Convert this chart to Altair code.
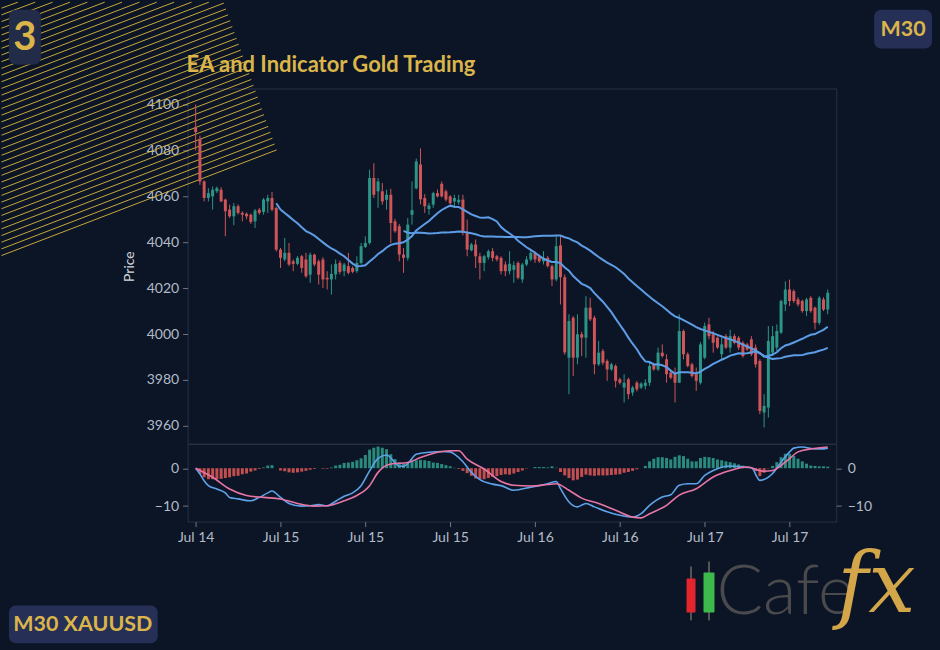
import json
import numpy as np
import pandas as pd
import altair as alt

# ---------------- data ----------------
opens = [4090, 4085, 4066.5, 4059.3, 4060.0, 4062.2, 4062.9, 4058.6, 4054.2, 4051.3,
         4055.7, 4052.8, 4052.4, 4052.0, 4049.1, 4054.2, 4053.2, 4057.8, 4059.3, 4054.9,
         4036.8, 4032.5, 4035.4, 4031.7, 4030.6, 4033.9, 4032.5, 4025.9, 4034.6, 4031.7,
         4032.5, 4024.5, 4023.8, 4026.0, 4031.0, 4027.4, 4029.6, 4028.8, 4027.4, 4031.0,
         4038.0, 4039.7, 4068.0, 4062.2, 4062.2, 4058.5, 4060.7, 4049.1, 4047.0, 4034.6,
         4033.2, 4052.0, 4063.5, 4073.9, 4059.3, 4054.5, 4056.4, 4061.4, 4065.5, 4062.2,
         4060.0, 4057.8, 4057.4, 4058.6, 4044.1, 4036.5, 4039.0, 4033.9, 4031.0, 4033.5,
         4036.1, 4033.9, 4033.2, 4030.3, 4027.4, 4028.0, 4031.0, 4023.8, 4030.3, 4032.5,
         4035.4, 4033.9, 4031.7, 4033.2, 4029.6, 4023.8, 4038.6, 4024.8, 3989.7, 4007.1,
         3989.7, 3999.9, 3998.4, 4011.5, 4007.1, 3986.8, 3992.6, 3988.3, 3984.6, 3986.1,
         3980.3, 3976.7, 3980.3, 3974.5, 3978.8, 3976.7, 3977.4, 3978.8, 3986.8, 3984.6,
         3991.9, 3989.0, 3983.2, 3982.5, 3978.8, 4001.3, 3991.2, 3986.8, 3982.5, 3978.8,
         3989.7, 4004.2, 3999.9, 3998.4, 3991.2, 3999.1, 3994.1, 3999.1, 3998.4, 3996.2,
         3995.5, 3997.7, 3994.1, 3988.3, 3965.8, 3968.0, 3991.9, 3994.1, 4000.6, 4012.9,
         4019.4, 4018.7, 4015.1, 4014.4, 4010.0, 4015.8, 4011.5, 4004.9, 4015.1, 4010.7]
highs = [4100, 4086.5, 4067, 4063.6, 4064.3, 4064.3, 4064.0, 4059.0, 4056.4, 4057.1,
         4056.5, 4053.5, 4053.0, 4052.5, 4054.5, 4055.0, 4059.3, 4060.7, 4061.9, 4055.5,
         4037.5, 4041.9, 4039.7, 4032.5, 4034.0, 4034.5, 4035.4, 4035.5, 4035.0, 4032.5,
         4033.5, 4027.4, 4030.3, 4032.5, 4032.0, 4031.0, 4035.4, 4029.5, 4033.9, 4039.7,
         4042.6, 4071.6, 4074.5, 4068.0, 4065.8, 4062.9, 4063.3, 4050.2, 4048.0, 4037.5,
         4050.6, 4066.5, 4076.5, 4080.9, 4061.0, 4057.1, 4062.0, 4063.0, 4066.5, 4063.0,
         4060.5, 4060.7, 4060.7, 4060.7, 4049.9, 4039.7, 4041.2, 4035.4, 4034.5, 4036.8,
         4037.5, 4034.5, 4033.9, 4031.7, 4036.1, 4031.7, 4031.7, 4031.0, 4033.9, 4036.8,
         4036.1, 4034.6, 4036.1, 4034.0, 4030.3, 4042.6, 4042.6, 4026.0, 4008.6, 4007.8,
         4008.6, 4001.0, 4016.5, 4015.8, 4008.0, 3997.0, 3993.5, 3989.0, 3987.5, 3986.8,
         3981.0, 3982.5, 3981.0, 3977.4, 3979.5, 3979.0, 3980.3, 3988.3, 3987.5, 3994.1,
         3995.5, 3991.2, 3984.0, 3985.4, 4008.6, 4002.0, 3992.0, 3987.5, 3985.4, 3996.5,
         4005.0, 4007.1, 4001.3, 3999.0, 3998.4, 4000.0, 4001.9, 4000.0, 3999.1, 3997.0,
         3996.2, 3999.1, 3995.5, 3989.0, 3973.8, 4003.5, 4003.5, 4004.2, 4015.0, 4023.0,
         4023.7, 4019.5, 4016.0, 4015.0, 4015.8, 4016.5, 4012.0, 4016.5, 4016.0, 4019.4]
lows = [4080, 4065, 4057.8, 4057.8, 4054.2, 4061.4, 4057.5, 4042.6, 4050.6, 4047.4,
        4052.0, 4049.1, 4050.0, 4048.0, 4046.2, 4052.0, 4052.0, 4052.8, 4053.5, 4036.0,
        4028.8, 4031.7, 4029.6, 4027.4, 4030.0, 4026.7, 4024.5, 4022.3, 4029.5, 4021.6,
        4020.1, 4019.4, 4017.2, 4023.8, 4026.0, 4025.2, 4026.0, 4026.5, 4026.7, 4030.3,
        4037.5, 4039.0, 4059.3, 4055.0, 4056.4, 4054.2, 4039.7, 4044.1, 4031.7, 4026.7,
        4032.0, 4047.7, 4063.0, 4056.5, 4052.8, 4052.0, 4055.0, 4059.5, 4059.5, 4057.8,
        4056.4, 4054.9, 4056.4, 4043.0, 4033.9, 4036.1, 4028.8, 4023.8, 4027.4, 4032.5,
        4031.7, 4031.7, 4026.0, 4025.2, 4026.0, 4022.3, 4023.8, 4022.3, 4029.6, 4031.7,
        4031.0, 4031.0, 4030.3, 4029.0, 4020.9, 4023.0, 4012.9, 3991.0, 3973.8, 3981.7,
        3986.8, 3990.4, 3989.7, 4005.7, 3982.5, 3986.1, 3986.5, 3979.6, 3984.0, 3976.7,
        3978.0, 3970.2, 3971.6, 3973.1, 3975.0, 3976.0, 3975.9, 3977.4, 3984.0, 3983.9,
        3989.7, 3978.8, 3980.3, 3970.2, 3978.8, 3989.0, 3985.5, 3981.0, 3975.2, 3978.0,
        3989.0, 3997.7, 3991.9, 3993.5, 3989.0, 3993.5, 3991.9, 3995.5, 3993.0, 3989.7,
        3992.6, 3990.4, 3985.4, 3965.1, 3959.3, 3963.6, 3990.4, 3992.6, 4000.0, 4010.0,
        4012.2, 4013.5, 4012.0, 4009.3, 4007.8, 4009.3, 4002.0, 4004.0, 4010.0, 4008.6]
closes = [4088, 4066.5, 4059.3, 4061.4, 4062.9, 4063.6, 4057.8, 4053.5, 4051.3, 4055.7,
          4052.8, 4052.0, 4051.3, 4048.8, 4053.8, 4052.8, 4058.6, 4059.3, 4054.2, 4036.8,
          4033.2, 4035.4, 4030.3, 4030.6, 4033.2, 4028.8, 4025.2, 4034.6, 4030.3, 4025.9,
          4023.8, 4023.8, 4026.2, 4030.6, 4027.1, 4030.3, 4026.7, 4027.1, 4031.0, 4038.3,
          4039.7, 4068.0, 4060.7, 4066.5, 4057.8, 4060.7, 4048.4, 4044.8, 4034.6, 4033.2,
          4047.7, 4054.0, 4075.2, 4058.7, 4055.7, 4056.0, 4061.4, 4060.0, 4060.0, 4058.6,
          4057.0, 4059.3, 4058.5, 4044.1, 4036.8, 4039.0, 4033.9, 4031.0, 4033.9, 4036.1,
          4033.2, 4032.5, 4027.4, 4027.4, 4030.6, 4030.0, 4024.5, 4030.3, 4032.5, 4035.4,
          4032.5, 4031.7, 4033.2, 4029.6, 4023.8, 4038.3, 4024.8, 3992.0, 4005.7, 3989.7,
          3999.9, 3998.4, 4011.5, 4006.4, 3986.8, 3991.9, 3987.5, 3984.6, 3986.8, 3979.6,
          3978.8, 3978.8, 3973.8, 3976.7, 3975.9, 3978.4, 3978.8, 3986.1, 3984.6, 3991.9,
          3990.4, 3982.5, 3981.0, 3978.8, 4001.3, 3991.2, 3986.1, 3981.7, 3979.6, 3995.5,
          4003.5, 3999.1, 3996.2, 3994.1, 3995.5, 3994.1, 3999.1, 3996.2, 3994.1, 3990.4,
          3993.3, 3991.2, 3986.8, 3966.5, 3968.7, 3997.0, 3999.1, 4001.3, 4014.4, 4019.4,
          4014.4, 4014.4, 4012.9, 4010.0, 4015.1, 4010.0, 4004.9, 4015.8, 4010.7, 4018.0]

hist_vals = [0, -1.5, -2.4, -2.9, -2.9, -2.9, -2.8, -2.6, -2.4, -2.1,
             -2.0, -1.6, -1.4, -0.9, -0.6, -0.2, 0.2, 0.7, 0.8, 0.0,
             -0.6, -0.8, -1.1, -1.2, -1.1, -0.9, -0.7, -0.4, -0.2, 0.0,
             -0.15, -0.15, 0.2, 0.7, 0.9, 1.4, 1.5, 1.7, 2.1, 2.6,
             3.5, 4.9, 5.4, 5.7, 5.4, 5.0, 3.7, 2.4, 1.5, 1.2,
             1.2, 2.0, 2.1, 2.2, 2.1, 1.9, 1.5, 1.4, 1.1, 0.8,
             0.5, 0.1, -0.2, -0.7, -1.3, -2.0, -2.7, -2.9, -2.9, -2.6,
             -2.3, -2.1, -1.8, -1.6, -1.7, -1.4, -1.0, -0.6, -0.1, 0.0,
             0.3, 0.3, 0.3, 0.2, 0.5, 0.1, -1.0, -1.9, -2.6, -3.2,
             -3.0, -2.3, -1.7, -1.9, -2.0, -1.9, -1.9, -1.9, -1.8, -1.7,
             -1.6, -1.2, -1.0, -0.7, -0.3, 0.0, 0.6, 1.8, 2.5, 2.9,
             2.9, 2.7, 2.3, 3.0, 3.4, 3.2, 2.5, 1.8, 1.8, 2.7,
             3.0, 2.9, 2.7, 2.3, 2.1, 1.8, 1.6, 1.3, 1.0, 0.7,
             0.3, -0.1, -0.8, -2.1, -1.2, -0.1, 0.6, 1.6, 2.9, 3.8,
             3.8, 3.2, 2.5, 1.8, 1.2, 0.7, 0.6, 0.5, 0.5, 0.4]

macd_idx = [0, 1, 2, 3, 5, 7, 8, 10, 13, 15, 17, 18, 20, 22, 25, 27, 29, 31, 33, 35,
            37, 39, 41, 43, 45, 47, 48, 49, 50, 52, 55, 58, 60, 61, 63, 65, 67, 70, 72, 75,
            79, 83, 85, 86, 88, 90, 92, 94, 97, 100, 103, 105, 107, 110, 112, 114, 116, 118, 120, 122,
            126, 129, 131, 133, 136, 138, 140, 141, 143, 146, 148, 149]
macd_vals = [0, -1.5, -3.3, -4.6, -5.5, -6.5, -7.7, -8.1, -8.6, -7.7, -6.5, -6.0, -7.7, -9.3, -10.0, -9.9, -9.6, -9.9, -8.7, -7.4,
             -6.5, -4.6, -0.7, 2.6, 3.5, 1.5, 0.5, 0.5, 1.2, 3.7, 4.2, 4.4, 4.3, 3.7, 1.7, -1.1, -3.0, -4.2, -4.6, -5.8,
             -5.0, -4.1, -3.5, -5.4, -8.9, -10.2, -9.3, -10.2, -11.5, -12.4, -12.9, -12.0, -9.8, -7.6, -7.0, -4.5, -4.1, -4.1, -1.9, -0.6,
             0.6, 0.3, 0.1, -3.2, -1.4, 1.6, 4.3, 5.3, 5.6, 5.1, 5.1, 5.3]
sig_idx = [0, 4, 8, 12, 16, 20, 24, 28, 31, 35, 38, 41, 43, 46, 50, 53, 57, 60, 62, 64,
           68, 72, 75, 79, 83, 85, 88, 91, 95, 99, 103, 105, 107, 111, 114, 118, 122, 126, 130, 134,
           136, 139, 142, 145, 149]
sig_vals = [0, -2.4, -5.5, -7.2, -7.7, -8.1, -9.3, -10.0, -9.9, -8.6, -7.2, -4.6, -1.1, 1.1, 1.5, 2.8, 4.2, 4.6, 4.6, 2.4,
            -0.2, -3.5, -4.5, -4.7, -4.3, -4.1, -5.8, -7.9, -9.3, -11.1, -12.9, -13.1, -12.0, -9.8, -7.1, -5.4, -2.3, -0.6, 0.3, -0.8,
            -0.6, 1.6, 4.3, 5.1, 5.6]

tick_idx = [0, 20, 40, 60, 80, 100, 120, 140]
tick_labels = ["Jul 14", "Jul 15", "Jul 15", "Jul 15", "Jul 16", "Jul 16", "Jul 17", "Jul 17"]
price_ticks = [3960, 3980, 4000, 4020, 4040, 4060, 4080, 4100]
macd_ticks = [-10, 0]

chart_title = "EA and Indicator Gold Trading"
badge_labels = ["3", "M30", "M30 XAUUSD"]
logo_words = ["Cafe", "fx"]

# ---------------- styling ----------------
BG = "#0b1526"
BORDER = "#283143"
UP, DN = "#2b9687", "#cf5558"
HUP, HDN = "#2a8a7d", "#c24e50"
MA_C = "#5d9de6"
BLUE, PINK = "#5ea3ea", "#e775a6"
GOLD = "#dcb54a"
LBL = "#b3bbc7"

OX, OY = 187, 87          # plot origin on the 940x650 canvas
PW, PH, MH = 650, 356, 78

N = len(closes)
df = pd.DataFrame({"i": np.arange(N), "open": opens, "high": highs, "low": lows,
                   "close": closes, "hist": hist_vals})
df["dir"] = np.where(df["close"] >= df["open"], "up", "down")
macd_df = pd.DataFrame({"i": macd_idx, "v": macd_vals})
sig_df = pd.DataFrame({"i": sig_idx, "v": sig_vals})

x_scale = alt.Scale(domain=[-1.9, 151], nice=False, zero=False, padding=0)
p_scale = alt.Scale(domain=[3952.2, 4107.0], nice=False, zero=False, padding=0)
m_scale = alt.Scale(domain=[-14.08, 6.45], nice=False, zero=False, padding=0)

x_top = alt.X("i:Q", scale=x_scale, axis=None)
cc = alt.Color("dir:N", scale=alt.Scale(domain=["up", "down"], range=[UP, DN]), legend=None)

base = alt.Chart(df)
wicks = base.mark_rule(strokeWidth=1).encode(
    x=x_top,
    y=alt.Y("low:Q", scale=p_scale,
            axis=alt.Axis(values=price_ticks, title="Price", format="d", titlePadding=10,
                          labelPadding=4, tickSize=5)),
    y2="high:Q", color=cc)
bodies = base.mark_bar(size=3).encode(
    x=x_top, y=alt.Y("open:Q", scale=p_scale), y2="close:Q", color=cc)


def sma(n):
    return (base.transform_window(ma="mean(close)", frame=[-(n - 1), 0], sort=[alt.SortField("i")])
            .transform_filter(f"datum.i >= {n - 1}")
            .mark_line(color=MA_C, strokeWidth=2)
            .encode(x=x_top, y=alt.Y("ma:Q", scale=p_scale)))


data_layer = alt.layer(wicks, bodies, sma(20), sma(50))

# ---------------- decorations (pixel space) ----------------
one = pd.DataFrame({"k": [0]})
frame = alt.Chart(one).mark_rect(opacity=0, fill=BG).encode(
    x=alt.value(-OX), x2=alt.value(940 - OX), y=alt.value(-OY), y2=alt.value(650 - OY))

rows = []
for k in range(45):
    yl = 254.4 - 6.7 * k
    if yl <= 2:
        break
    yr = (yl - 0.385 * 223) / 1.1386
    xr = 223 + 0.36 * yr
    if yr >= 0:
        x1, y1 = xr, yr
    else:
        x1, y1 = yl / 0.385, 0
    rows.append({"x": 0 - OX + 0.5, "y": yl - OY, "x2": x1 - OX, "y2": y1 - OY + 0.5})
hatch_df = pd.DataFrame(rows)
hatch = alt.Chart(hatch_df).mark_rule(color="#dcb83e", strokeWidth=1, opacity=0.9).encode(
    x=alt.X("x:Q", scale=None, axis=None), y=alt.Y("y:Q", scale=None, axis=None),
    x2="x2:Q", y2="y2:Q")

badge_df = pd.DataFrame({
    "label": badge_labels,
    "x0": [8, 875, 8], "x1": [40, 933, 157], "y0": [8, 8, 605], "y1": [63, 47, 643],
    "cx": [24, 904, 82], "cy": [36, 28, 625], "fs": [40, 21.5, 21.5],
    "fill": ["#222c49", "#262f55", "#262f55"]})
for c in ["x0", "x1", "cx"]:
    badge_df[c] = badge_df[c] - OX
for c in ["y0", "y1", "cy"]:
    badge_df[c] = badge_df[c] - OY
badge_rect = alt.Chart(badge_df).mark_rect(cornerRadius=7).encode(
    x=alt.X("x0:Q", scale=None, axis=None), x2="x1:Q",
    y=alt.Y("y0:Q", scale=None, axis=None), y2="y1:Q",
    color=alt.Color("fill:N", scale=None))
badge_text = alt.Chart(badge_df).mark_text(font="Lato", fontWeight="bold", color=GOLD,
                                           align="center", baseline="middle").encode(
    x=alt.X("cx:Q", scale=None, axis=None), y=alt.Y("cy:Q", scale=None, axis=None),
    text="label:N", size=alt.Size("fs:Q", scale=None))

title_df = pd.DataFrame({"t": [chart_title]})
title_mark = alt.Chart(title_df).mark_text(font="Lato", fontWeight="bold", fontSize=22, color=GOLD,
                                           align="left", baseline="alphabetic").encode(
    x=alt.value(186 - OX), y=alt.value(70 - OY), text="t:N")

icon_df = pd.DataFrame({"x0": [687, 704], "x1": [696, 715], "y0": [578, 572], "y1": [612, 612],
                        "wx": [691.5, 709.5], "wy0": [566, 561], "wy1": [620, 620],
                        "fill": ["#e3262c", "#3dba4b"]})
for c in ["x0", "x1", "wx"]:
    icon_df[c] = icon_df[c] - OX
for c in ["y0", "y1", "wy0", "wy1"]:
    icon_df[c] = icon_df[c] - OY
icon_wick = alt.Chart(icon_df).mark_rule(strokeWidth=2, color="#555555").encode(
    x=alt.X("wx:Q", scale=None, axis=None), y=alt.Y("wy0:Q", scale=None, axis=None), y2="wy1:Q")
icon_body = alt.Chart(icon_df).mark_rect(cornerRadius=1).encode(
    x=alt.X("x0:Q", scale=None, axis=None), x2="x1:Q",
    y=alt.Y("y0:Q", scale=None, axis=None), y2="y1:Q",
    color=alt.Color("fill:N", scale=None))
logo_df = pd.DataFrame({"w": logo_words})
cafe = alt.Chart(logo_df).transform_filter("datum.w == 'Cafe'").mark_text(
    font="Lato", fontWeight=300, fontSize=69, color="#4a4a4c", align="left", baseline="alphabetic"
).encode(x=alt.value(717 - OX), y=alt.value(614 - OY), text="w:N")
fx = alt.Chart(logo_df).transform_filter("datum.w == 'fx'").mark_text(
    font="DejaVu Serif", fontStyle="italic", fontSize=84, color="#d3a64a", align="left",
    baseline="alphabetic").encode(x=alt.value(838 - OX), y=alt.value(612 - OY), text="w:N")

top = alt.layer(frame, hatch, data_layer, badge_rect, badge_text, title_mark,
                icon_wick, icon_body, cafe, fx).resolve_scale(
    x="independent", y="independent").properties(width=PW, height=PH)

# ---------------- MACD panel ----------------
label_expr = f"{json.dumps(tick_labels)}[indexof({json.dumps(tick_idx)}, datum.value)]"
x_bot = alt.X("i:Q", scale=x_scale,
              axis=alt.Axis(values=tick_idx, labelExpr=label_expr, title=None, tickSize=5,
                            labelPadding=4))
hist = alt.Chart(df).mark_bar(size=3).encode(
    x=x_bot,
    y=alt.Y("hist:Q", scale=m_scale,
            axis=alt.Axis(values=macd_ticks, title=None, tickSize=5, labelPadding=4)),
    y2=alt.datum(0),
    color=alt.condition("datum.hist >= 0", alt.value(HUP), alt.value(HDN)))
macd_line = alt.Chart(macd_df).mark_line(color=BLUE, strokeWidth=1.6, interpolate="monotone").encode(
    x=x_bot,
    y=alt.Y("v:Q", scale=m_scale,
            axis=alt.Axis(orient="right", values=macd_ticks, title=None, tickSize=5, labelPadding=6)))
sig_line = alt.Chart(sig_df).mark_line(color=PINK, strokeWidth=1.6, interpolate="monotone").encode(
    x=x_bot, y=alt.Y("v:Q", scale=m_scale))
bottom = alt.layer(hist, alt.layer(macd_line, sig_line)).resolve_scale(
    y="independent").properties(width=PW, height=MH)

chart = alt.vconcat(top, bottom, spacing=0, bounds="flush").properties(
    padding=0, background=BG
).configure_view(stroke=BORDER, strokeWidth=1).configure_axis(
    labelColor=LBL, labelFont="Lato", labelFontSize=14, tickColor="#6f7889",
    domain=False, grid=False, titleColor="#d3d8df", titleFont="Lato", titleFontSize=14,
    titleFontWeight="normal")

chart.save("out.html", embed_options={"renderer": "svg", "actions": False})
